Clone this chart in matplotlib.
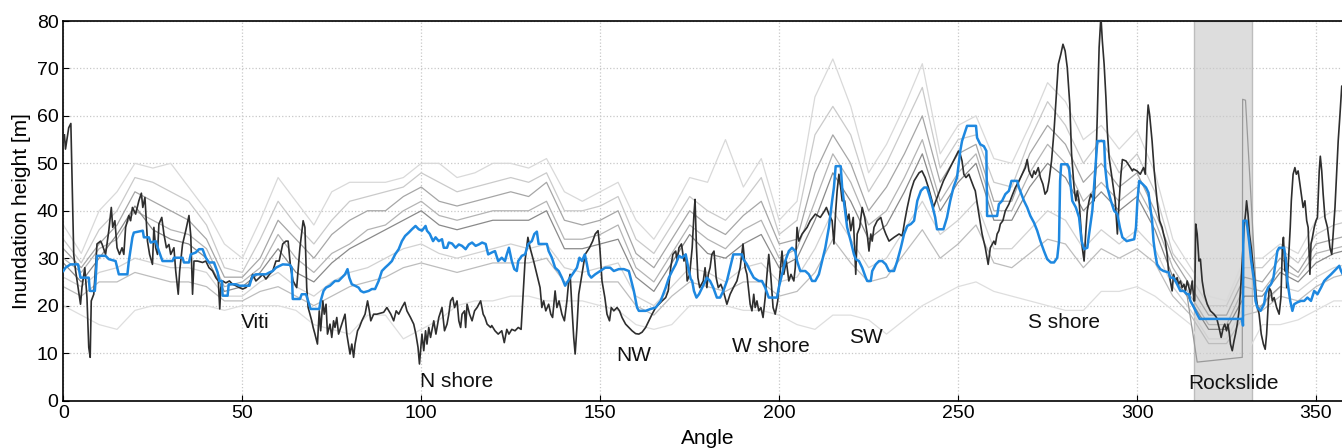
import matplotlib
matplotlib.use("Agg")
import matplotlib.pyplot as plt

plt.rcParams['font.family'] = ['Liberation Sans', 'DejaVu Sans']

# sudut untuk garis abu-abu (skenario), tiap 5 derajat
sudut_abu = list(range(0, 361, 5))

abu_atas = [37, 31, 40, 44, 50, 49, 50, 45, 40, 33,
            30, 38, 47, 42, 37, 44, 46, 46, 46, 47,
            50, 50, 47, 48, 50, 50, 49, 51, 44, 42,
            44, 46, 38, 34, 40, 47, 46, 55, 45, 51,
            38, 42, 64, 72, 62, 48, 54, 62, 71, 52,
            58, 60, 51, 50, 58, 67, 63, 55, 58, 53,
            57, 48, 34, 28, 22, 21, 30, 30, 33, 31,
            38, 40, 40]
abu_2 = [34, 29, 36, 40, 47, 46, 44, 42, 37, 28,
         27, 34, 42, 37, 33, 38, 42, 43, 44, 45,
         48, 46, 44, 45, 46, 47, 46, 48, 40, 40,
         41, 43, 34, 31, 37, 43, 40, 38, 42, 47,
         35, 38, 56, 62, 56, 44, 50, 58, 66, 49,
         55, 56, 46, 45, 55, 63, 58, 50, 55, 48,
         52, 44, 31, 26, 20, 20, 28, 28, 32, 29,
         35, 37, 38]
abu_3 = [32, 28, 33, 37, 44, 42, 40, 38, 34, 26,
         26, 30, 38, 34, 30, 35, 38, 40, 40, 43,
         45, 42, 41, 42, 43, 44, 43, 46, 38, 37,
         38, 40, 31, 28, 34, 40, 37, 35, 39, 42,
         33, 34, 48, 56, 50, 40, 45, 52, 60, 46,
         52, 54, 42, 42, 52, 58, 54, 46, 50, 45,
         48, 40, 30, 24, 18, 18, 26, 25, 30, 27,
         33, 34, 35]
abu_4 = [30, 27, 32, 34, 40, 38, 36, 35, 32, 24,
         25, 28, 35, 30, 27, 31, 33, 36, 37, 40,
         42, 39, 38, 39, 40, 40, 40, 42, 34, 34,
         35, 37, 28, 25, 31, 37, 34, 32, 36, 38,
         30, 32, 42, 52, 46, 37, 40, 47, 55, 42,
         48, 52, 40, 40, 48, 54, 50, 42, 46, 42,
         45, 38, 28, 22, 16, 16, 24, 23, 28, 26,
         31, 32, 33]
abu_5 = [29, 25, 30, 35, 41, 36, 34, 33, 30, 23,
         24, 27, 32, 27, 25, 29, 32, 34, 36, 38,
         40, 37, 36, 37, 38, 38, 38, 40, 32, 32,
         33, 34, 26, 23, 29, 35, 31, 30, 33, 35,
         28, 30, 38, 48, 42, 34, 37, 44, 52, 40,
         46, 50, 38, 38, 45, 50, 47, 40, 44, 40,
         43, 36, 26, 21, 15, 15, 22, 22, 27, 25,
         29, 31, 32]
abu_6 = [26, 24, 27, 28, 30, 29, 28, 28, 27, 22,
         22, 25, 27, 24, 22, 25, 27, 28, 30, 32,
         33, 31, 30, 31, 32, 33, 32, 33, 28, 27,
         28, 29, 22, 20, 24, 28, 27, 25, 28, 29,
         25, 26, 32, 40, 34, 28, 30, 36, 42, 35,
         38, 42, 32, 32, 36, 40, 38, 32, 36, 33,
         36, 32, 24, 19, 13, 13, 20, 20, 24, 23,
         26, 28, 29]
abu_7 = [24, 22, 25, 25, 27, 26, 25, 25, 24, 21,
         21, 23, 24, 22, 20, 22, 24, 25, 26, 28,
         29, 28, 27, 28, 29, 29, 29, 30, 25, 25,
         25, 25, 20, 18, 22, 25, 24, 23, 25, 25,
         22, 23, 27, 34, 29, 25, 26, 31, 36, 30,
         33, 37, 29, 28, 31, 34, 33, 28, 32, 30,
         32, 29, 22, 18, 12, 12, 18, 19, 22, 21,
         24, 26, 27]
abu_bawah = [20, 18, 16, 15, 19, 20, 20, 20, 20, 19,
             20, 20, 20, 19, 16, 15, 14, 18, 18, 13,
             15, 17, 20, 21, 21, 22, 22, 21, 21, 21,
             20, 19, 16, 15, 16, 20, 20, 20, 19, 19,
             18, 16, 15, 18, 18, 17, 14, 17, 20, 22,
             24, 25, 23, 22, 21, 20, 19, 19, 23, 23,
             24, 22, 19, 16, 8, 8, 9, 16, 16, 17,
             19, 21, 21]

# satu skenario yang melonjak di area longsoran
longsor_x = [314, 316.8, 329.4, 329.5, 330.3, 333.6, 337, 340]
longsor_y = [22, 8.1, 9.1, 63.5, 63.3, 19, 22, 24]

# garis hitam (pengamatan)
hitam_x = [0.3, 0.6, 1.5, 2.1, 2.9, 3.4, 4.8, 5.2, 6.0, 6.6, 7.1, 7.5, 7.8, 8.5, 9.0, 9.4,
           10.4, 10.8, 11.8, 12.7, 13.4, 13.8, 14.4, 15.0, 15.7, 16.4, 16.9, 17.4, 18.3, 18.8,
           19.3, 20.2, 21.1, 21.8, 22.2, 22.8, 23.5, 24.1, 24.9, 25.3, 25.8, 26.3, 26.7, 27.5,
           28.1, 28.8, 29.5, 30.0, 30.9, 31.4, 32.1, 32.5, 33.3, 34.2, 35.1, 35.6, 36.1, 36.5,
           37.5, 38.9, 39.8, 40.7, 41.7, 42.6, 43.3, 43.7, 44.0, 44.5, 45.4, 46.4, 47.3, 48.2,
           49.2, 50.1, 51.0, 51.9, 52.9, 53.8, 54.8, 55.7, 56.6, 57.6, 58.5, 59.4, 60.3, 61.3,
           62.2, 62.8, 63.5, 64.2, 65.2, 66.1, 67.0, 67.5, 68.0, 68.4, 69.4, 69.8, 70.3, 71.0,
           71.5, 71.9, 72.5, 72.9, 73.4, 73.8, 74.5, 75.0, 75.5, 75.9, 76.4, 76.9, 77.8, 78.7,
           79.2, 80.1, 80.6, 81.1, 81.5, 82.2, 82.7, 83.4, 84.3, 85.0, 85.5, 85.9, 86.7, 87.6,
           89.5, 90.4, 91.5, 92.3, 93.0, 93.7, 94.6, 95.4, 96.0, 97.0, 97.9, 98.5, 99.1, 99.5,
           99.9, 100.2, 100.7, 101.2, 101.6, 102.1, 102.6, 103.5, 104.1, 104.9, 105.8, 106.5,
           107.2, 107.7, 108.2, 108.8, 109.3, 110.0, 110.5, 111.0, 111.4, 112.1, 112.4, 112.8,
           113.5, 114.2, 114.9, 115.6, 116.6, 117.3, 117.8, 118.4, 119.4, 119.7, 120.6, 121.5,
           122.5, 123.2, 123.9, 124.5, 125.3, 126.2, 127.1, 127.9, 128.3, 129.0, 129.8, 130.4,
           131.4, 132.3, 133.2, 133.7, 134.2, 134.8, 135.6, 136.2, 136.7, 137.4, 137.9, 138.5,
           139.3, 140.0, 140.7, 141.2, 141.6, 142.1, 142.6, 143.0, 143.5, 144.0, 144.9, 145.8,
           147.0, 147.9, 148.6, 149.4, 149.9, 150.5, 151.3, 151.9, 152.6, 153.1, 153.8, 154.7,
           155.4, 156.1, 157.1, 158.0, 158.9, 159.9, 160.8, 161.7, 162.7, 163.6, 164.5, 165.5,
           166.4, 167.3, 168.3, 169.0, 169.7, 170.3, 171.1, 171.5, 172.0, 172.7, 173.4, 173.9,
           174.3, 175.0, 175.7, 176.2, 176.5, 176.9, 177.3, 177.8, 178.8, 179.3, 179.8, 180.2,
           180.7, 181.2, 181.8, 182.4, 183.0, 183.7, 184.4, 185.4, 186.3, 187.2, 188.2, 189.1,
           189.9, 190.5, 191.0, 191.5, 191.9, 192.4, 192.9, 193.3, 193.8, 194.3, 194.9, 195.5,
           196.1, 196.6, 197.1, 197.7, 198.3, 198.9, 199.6, 200.3, 200.8, 201.3, 202.0, 202.7,
           203.3, 204.1, 204.5, 205.0, 205.5, 206.4, 207.8, 208.7, 210.1, 211.5, 212.7, 213.2,
           213.9, 214.8, 215.3, 215.8, 216.2, 216.7, 217.2, 217.6, 218.3, 219.0, 219.5, 220.0,
           220.7, 221.1, 221.4, 221.8, 222.5, 223.2, 223.9, 224.6, 225.1, 225.6, 226.0, 226.5,
           227.4, 228.4, 229.1, 229.8, 230.7, 232.1, 233.5, 234.4, 235.1, 235.8, 236.8, 237.7,
           239.1, 239.9, 240.8, 241.7, 242.7, 243.1, 244.5, 245.9, 247.3, 248.7, 250.1, 250.6,
           251.1, 251.6, 252.2, 253.0, 253.7, 254.4, 254.8, 255.8, 256.7, 257.6, 258.4, 259.0,
           259.5, 260.0, 260.4, 260.9, 261.4, 261.8, 262.5, 263.2, 264.2, 265.1, 266.0, 267.0,
           267.9, 268.8, 269.3, 269.8, 270.2, 270.7, 271.2, 271.6, 272.4, 273.0, 273.7, 274.3,
           274.9, 275.4, 276.1, 276.8, 277.4, 278.0, 278.7, 279.3, 279.9, 280.5, 281.2, 281.7,
           282.4, 282.9, 283.3, 283.8, 284.3, 284.7, 285.2, 285.7, 286.1, 286.6, 287.1, 287.5,
           288.0, 288.5, 288.9, 289.4, 289.9, 290.3, 290.8, 291.3, 291.7, 292.2, 293.1, 293.9,
           294.5, 295.0, 295.5, 295.9, 296.9, 297.8, 298.7, 299.0, 300.0, 300.9, 301.8, 302.3,
           302.8, 303.1, 303.5, 304.2, 304.8, 305.6, 306.3, 307.0, 307.4, 307.9, 308.4, 308.8,
           309.3, 309.8, 310.2, 310.7, 311.2, 311.6, 312.1, 312.6, 313.1, 313.5, 314.0, 314.5,
           314.9, 315.4, 315.9, 316.1, 316.4, 316.8, 317.3, 317.7, 318.2, 318.8, 319.6, 320.5,
           321.5, 322.2, 322.9, 323.5, 324.1, 324.5, 325.0, 325.4, 325.8, 326.1, 326.6, 327.1,
           327.5, 328.0, 328.5, 328.9, 329.4, 329.9, 330.3, 330.6, 331.0, 331.4, 331.9, 332.7,
           333.4, 334.1, 334.7, 335.3, 335.8, 336.2, 336.6, 336.9, 337.4, 337.8, 338.3, 339.0,
           339.7, 340.2, 340.6, 340.9, 341.3, 341.6, 341.8, 342.2, 342.8, 343.1, 343.6, 344.1,
           344.5, 345.0, 345.5, 345.9, 346.4, 346.9, 347.4, 347.8, 348.3, 348.6, 349.0, 349.5,
           350.0, 350.4, 350.9, 351.2, 351.6, 352.0, 352.5, 353.2, 353.9, 354.4, 354.8, 355.3,
           355.8, 356.2, 356.7, 357.2, 357.5]
hitam_y = [56, 53, 57.5, 58.4, 30.8, 27.5, 20.3, 23.8, 28.0, 21.7, 11.2, 9.1, 21.0, 22.4, 28.0, 33.0,
           33.6, 33.0, 30.8, 35.8, 40.7, 36.5, 37.9, 32.2, 30.8, 32.2, 30.8, 36.5, 39.0, 37.9,
           40.7, 39.3, 42.1, 43.7, 40.7, 42.8, 33.6, 30.8, 28.7, 36.5, 32.2, 30.8, 37.2, 38.6,
           35.1, 32.2, 32.9, 30.8, 32.2, 27.3, 22.4, 27.3, 32.9, 35.8, 39.0, 34.8, 22.4, 29.4,
           29.4, 29.1, 29.4, 28.0, 27.3, 25.9, 25.2, 19.3, 23.8, 25.2, 24.8, 25.2, 24.5, 24.2,
           23.8, 23.5, 23.8, 24.5, 26.6, 25.2, 25.9, 26.6, 25.6, 26.6, 27.3, 29.4, 29.4, 33.0,
           33.6, 33.6, 28.0, 25.2, 23.8, 32.2, 37.9, 36.5, 23.8, 19.6, 16.8, 15.4, 14.0, 11.9,
           18.9, 14.7, 21.0, 18.2, 20.3, 14.0, 16.1, 13.3, 16.8, 15.4, 17.5, 14.0, 16.1, 18.2,
           14.0, 9.8, 11.9, 9.1, 11.9, 14.7, 15.4, 16.8, 18.2, 21.0, 18.9, 16.8, 18.2, 18.2,
           18.6, 19.6, 18.2, 16.8, 18.9, 18.2, 19.6, 20.7, 18.9, 17.5, 16.1, 14.0, 11.2, 7.7,
           11.2, 14.0, 10.5, 14.7, 11.9, 15.4, 13.3, 16.8, 14.0, 17.5, 19.6, 14.7,
           16.1, 18.2, 21.0, 21.7, 19.6, 21.0, 16.8, 15.4, 18.2, 18.9, 15.4, 20.3,
           18.2, 16.8, 18.9, 19.6, 21.0, 18.2, 17.5, 16.1, 15.4, 15.8, 14.7, 14.0,
           14.7, 12.2, 15.0, 14.0, 15.0, 14.7, 15.4, 15.0, 20.3, 29.4, 34.4, 32.2,
           29.4, 26.6, 23.8, 19.6, 21.0, 18.9, 20.3, 18.2, 17.5, 23.1, 19.6, 21.0,
           18.2, 16.8, 21.0, 25.2, 26.6, 19.6, 13.3, 9.8, 15.4, 22.4, 26.6, 30.8,
           32.2, 33.6, 35.1, 35.8, 32.2, 25.2, 21.7, 18.2, 16.8, 19.6, 18.9, 19.6,
           18.9, 17.5, 16.1, 15.4, 14.7, 14.1, 14.0, 14.4, 15.4, 16.8, 18.2, 19.6,
           20.3, 21.0, 21.7, 23.1, 28.0, 30.8, 31.5, 29.4, 32.2, 33.0, 29.4, 30.8,
           25.2, 26.6, 32.2, 39.3, 42.4, 32.2, 25.9, 23.8, 25.2, 28.0, 23.8, 26.6,
           28.0, 30.8, 31.5, 25.9, 23.8, 24.5, 23.1, 20.3, 22.4, 23.8, 25.2, 28.0,
           33.0, 28.0, 26.6, 23.1, 20.3, 18.9, 22.4, 19.6, 21.0, 18.9, 19.6, 17.5,
           21.7, 26.6, 30.8, 25.9, 19.6, 18.2, 21.0, 27.3, 31.5, 26.6, 29.4, 25.2,
           26.6, 25.2, 28.0, 36.5, 33.6, 35.1, 36.5, 37.9, 39.3, 38.6, 40.0, 40.7,
           39.3, 37.9, 33.0, 40.0, 44.2, 47.7, 44.9, 42.1, 42.1, 37.9, 39.3, 35.8,
           38.6, 32.2, 26.6, 35.1, 36.5, 40.7, 38.6, 35.1, 31.5, 35.1, 33.6, 36.5,
           37.9, 38.6, 36.5, 35.1, 33.6, 34.4, 35.1, 34.7, 37.9, 40.7, 44.2, 46.3,
           48.0, 48.4, 47.0, 44.9, 42.1, 40.7, 43.5, 46.3, 48.4, 50.5, 52.6, 51.9,
           50.5, 47.7, 47.0, 47.7, 46.3, 44.9, 44.2, 39.3, 35.1, 32.2, 28.7, 32.2,
           32.9, 33.6, 32.9, 35.1, 35.8, 37.2, 37.9, 40.0, 41.4, 43.2, 44.9, 46.3,
           47.7, 49.1, 50.8, 48.4, 47.7, 47.0, 48.4, 47.7, 49.1, 47.0, 45.6, 43.5,
           44.2, 46.3, 50.5, 56.8, 63.9, 70.9, 73.0, 75.1, 73.7, 70.2, 62.5, 52.0,
           44.9, 42.1, 44.2, 42.1, 36.5, 32.2, 29.4, 35.8, 40.0, 42.1, 43.5, 42.8,
           42.1, 49.8, 60.3, 74.4, 81.0, 75.8, 70.9, 63.9, 56.8, 51.2, 46.3, 42.1,
           35.1, 42.1, 47.7, 50.8, 50.5, 49.5, 48.4, 48.8, 48.4, 47.7, 49.1, 47.7,
           58.4, 62.3, 60.3, 54.7, 48.4, 42.1, 37.9, 36.5, 35.1, 33.6, 30.8, 27.3,
           25.2, 23.1, 26.6, 25.2, 25.9, 24.5, 25.2, 23.8, 24.5, 23.1, 25.2, 23.8,
           22.4, 25.2, 21.0, 21.0, 37.2, 35.1, 29.4, 29.8, 25.2, 22.4, 20.3, 18.9,
           18.2, 17.5, 15.4, 13.3, 15.4, 16.1, 14.7, 16.1, 14.0, 11.9, 10.5, 12.6,
           14.0, 16.1, 18.9, 23.1, 29.4, 36.5, 39.3, 42.1, 39.3, 35.1, 32.2, 26.6,
           21.0, 18.2, 14.0, 11.9, 10.8, 14.0, 19.6, 23.8, 23.1, 21.0, 21.7, 19.6,
           18.2, 21.7, 32.2, 34.4, 27.3, 30.1, 23.8, 28.0, 36.5, 42.1, 47.7, 49.1,
           47.7, 48.4, 45.6, 43.5, 40.7, 42.1, 37.9, 36.5, 26.6, 33.0, 34.4, 36.5,
           37.9, 38.6, 48.4, 51.5, 48.4, 43.5, 38.6, 36.5, 32.2, 30.8, 35.1, 40.7,
           48.4, 54.7, 60.3, 66.3, 64.6]

# garis biru (median skenario)
biru_x = [0, 0.6, 2.0, 4.1, 4.8, 7.1, 7.4, 8.8, 9.0, 9.4, 11.8, 12.7, 14.6, 15.5, 17.9, 18.3,
          19.3, 19.7, 22.2, 22.5, 23.9, 24.4, 25.8, 26.7, 27.7, 30.5, 30.9, 33.3, 33.7, 35.1,
          35.6, 37.0, 37.9, 38.9, 39.8, 40.7, 42.1, 43.1, 43.6, 44.3, 44.5, 45.9, 46.2, 48.2,
          49.2, 52.0, 52.4, 52.9, 53.8, 56.6, 57.6, 58.5, 59.4, 61.3, 63.3, 63.8, 64.1, 66.1,
          66.6, 67.8, 68.4, 69.1, 71.5, 71.9, 72.7, 73.4, 74.5, 75.9, 76.9, 77.8, 78.7, 79.4,
          79.9, 80.6, 81.5, 82.5, 83.1, 83.9, 85.3, 86.2, 87.1, 88.1, 89.0, 89.9, 90.9, 91.8,
          92.7, 93.7, 94.6, 95.5, 96.5, 97.4, 98.4, 99.3, 100.2, 101.2, 101.6, 102.4, 103.3,
          104.0, 104.9, 105.8, 106.3, 107.2, 107.7, 108.6, 109.6, 110.5, 111.4, 112.4, 113.3,
          114.2, 115.2, 116.1, 117.0, 118.0, 118.7, 119.7, 120.6, 121.5, 122.5, 123.4, 123.9,
          124.5, 125.3, 126.0, 126.7, 127.1, 128.1, 129.0, 129.9, 130.9, 131.6, 132.3, 132.8,
          134.2, 135.1, 135.6, 136.5, 137.4, 138.4, 139.3, 140.2, 141.6, 142.6, 143.5, 144.2,
          144.9, 145.7, 146.3, 146.8, 147.5, 148.6, 150.0, 151.4, 152.8, 153.8, 155.2, 156.6,
          158.0, 158.7, 159.4, 160.3, 160.8, 162.7, 164.1, 165.5, 166.9, 168.3, 169.2, 170.1,
          171.1, 172.0, 172.9, 173.9, 174.6, 175.3, 175.7, 176.2, 176.9, 177.6, 178.5, 179.8,
          180.7, 181.6, 182.6, 183.5, 184.4, 185.4, 186.3, 187.2, 189.6, 190.0, 191.0, 191.9,
          192.9, 194.3, 195.2, 196.1, 197.1, 199.4, 199.9, 200.8, 201.7, 202.7, 203.6, 204.5,
          205.0, 205.9, 207.3, 208.3, 209.2, 210.1, 211.1, 212.0, 212.9, 213.9, 214.8, 215.3,
          215.8, 217.2, 217.6, 218.3, 219.0, 220.0, 220.9, 221.4, 222.3, 223.2, 224.2, 224.6,
          225.6, 226.0, 227.0, 227.9, 228.8, 229.8, 230.7, 232.1, 233.0, 234.0, 234.9, 235.8,
          236.8, 237.7, 238.6, 239.6, 240.5, 241.3, 241.9, 242.7, 243.6, 244.1, 245.9, 246.9,
          247.8, 248.7, 249.7, 250.6, 251.1, 252.5, 255.0, 255.3, 256.2, 257.2, 257.9, 258.1,
          260.9, 261.4, 262.3, 263.2, 264.2, 264.9, 266.5, 267.0, 267.7, 268.4, 269.3, 270.2,
          271.2, 272.1, 273.0, 274.0, 274.9, 275.9, 276.8, 277.7, 278.2, 278.5, 278.8, 280.5,
          281.0, 281.5, 281.9, 282.9, 283.8, 284.5, 285.2, 286.1, 286.6, 287.5, 288.9, 290.8,
          291.1, 291.7, 292.7, 293.6, 294.5, 295.2, 295.9, 297.1, 299.2, 299.7, 300.1, 300.6,
          301.6, 302.5, 303.2, 303.7, 304.2, 304.6, 305.1, 305.6, 306.5, 307.4, 308.8, 309.3,
          310.2, 311.2, 312.1, 313.1, 314.0, 314.5, 314.9, 315.9, 316.8, 317.5, 329.4, 329.6,
          329.7, 330.6, 331.3, 331.9, 332.7, 333.1, 333.6, 334.5, 335.5, 335.9, 336.6, 337.4,
          338.1, 338.5, 339.2, 339.7, 341.1, 341.6, 342.0, 342.8, 343.4, 343.9, 344.8, 345.8,
          346.7, 347.6, 348.6, 349.5, 350.4, 351.4, 352.3, 353.2, 354.2, 355.1, 356.0, 356.5,
          357.0, 357.5, 358.5]
biru_y = [27.3, 28.0, 28.7, 28.7, 25.9, 25.9, 23.1, 23.1, 25.2, 30.5, 30.5, 29.8, 29.4, 26.6, 26.6, 29.4,
          34.4, 35.4, 35.8, 34.4, 34.4, 33.3, 33.6, 31.5, 29.4, 29.4, 30.1, 30.1, 29.1, 29.1,
          30.8, 31.2, 31.9, 31.9, 30.1, 29.1, 29.1, 27.0, 25.2, 25.2, 22.1, 22.1, 24.5, 24.5,
          24.2, 24.2, 25.2, 26.3, 26.6, 26.6, 27.0, 27.3, 28.0, 28.7, 28.6, 28.0, 21.4, 21.4,
          22.4, 22.4, 21.0, 19.3, 19.3, 21.0, 23.1, 23.8, 24.2, 25.2, 25.2, 25.9, 26.6, 27.7,
          25.9, 24.5, 24.2, 23.8, 23.1, 22.8, 23.1, 23.5, 23.5, 25.2, 27.3, 28.0, 28.7, 29.4,
          30.8, 31.9, 33.6, 34.7, 35.4, 36.1, 36.8, 36.1, 35.8, 36.8, 35.8, 35.1, 33.6,
          34.4, 33.6, 34.0, 32.2, 32.2, 33.3, 33.1, 32.2, 32.9, 32.6, 31.9, 32.9,
          33.3, 32.6, 32.9, 33.3, 33.0, 30.8, 31.2, 31.5, 29.4, 30.1, 29.4, 30.8,
          32.2, 29.4, 27.7, 27.3, 29.4, 30.5, 30.8, 33.0, 33.6, 35.1, 35.6, 33.0,
          33.0, 33.0, 31.5, 30.1, 28.0, 27.3, 25.9, 24.2, 25.9, 27.0, 28.0, 30.1,
          29.4, 30.8, 28.7, 26.6, 25.9, 26.6, 27.3, 28.0, 28.0, 27.3, 27.7, 27.7,
          27.3, 25.2, 23.1, 19.6, 18.9, 18.9, 19.3, 19.6, 21.0, 23.8, 25.9, 27.3,
          28.7, 30.5, 30.1, 30.8, 28.0, 25.6, 25.2, 23.1, 21.7, 22.4, 23.8, 25.9,
          25.2, 23.8, 21.7, 21.7, 23.1, 25.2, 28.0, 30.8, 30.8, 29.8, 28.7, 27.3,
          25.9, 25.2, 25.2, 23.8, 21.7, 21.7, 23.8, 26.6, 29.4, 31.5, 32.2, 31.5,
          29.4, 27.3, 27.3, 26.6, 25.2, 25.2, 26.6, 29.4, 32.2, 36.5, 42.1, 44.9,
          49.4, 49.4, 44.9, 40.7, 36.5, 33.6, 30.8, 29.8, 29.4, 28.0, 25.9, 25.2,
          25.2, 27.3, 28.7, 29.4, 29.4, 28.7, 27.3, 27.3, 29.4, 32.2, 35.1, 36.8,
          37.2, 37.9, 42.1, 44.2, 44.9, 44.9, 43.5, 41.4, 38.6, 36.1, 36.1, 38.6,
          42.1, 44.9, 47.0, 52.6, 54.7, 57.9, 57.9, 55.4, 54.0, 53.6, 52.6, 38.9,
          38.9, 41.4, 42.1, 43.5, 44.2, 46.3, 46.3, 44.9, 43.5, 42.1, 40.7, 38.9,
          37.5, 35.8, 33.6, 31.5, 29.8, 29.1, 29.1, 30.1, 33.6, 46.3, 49.8, 49.8,
          49.1, 44.9, 42.1, 40.7, 38.6, 33.6, 31.9, 32.2, 35.1, 40.0, 54.7, 54.7,
          49.1, 44.9, 42.1, 40.0, 39.3, 36.5, 34.4, 33.6, 34.0, 36.5, 42.1, 46.3,
          45.6, 44.9, 43.8, 40.7, 37.9, 33.6, 30.8, 28.7, 27.7, 27.3, 27.0, 25.9,
          25.9, 24.5, 23.1, 23.1, 22.4, 22.4, 21.0, 19.6, 18.2, 17.2, 17.2, 15.8,
          37.9, 37.9, 33.6, 29.4, 25.2, 21.0, 19.6, 18.9, 20.3, 22.4, 23.8, 24.5,
          25.9, 28.0, 31.5, 32.2, 32.2, 29.4, 25.2, 21.0, 18.9, 20.3, 20.7, 21.0,
          21.0, 21.7, 21.0, 23.1, 22.4, 23.8, 25.2, 25.9, 26.6, 27.3, 28.0, 28.4,
          27.3, 26.6, 27.0]

# label wilayah
label_teks = ["Viti", "N shore", "NW", "W shore", "SW", "S shore", "Rockslide"]
label_x = [53.7, 109.9, 159.3, 197.7, 224.2, 279.7, 326.9]
label_y = [16.4, 4.1, 9.4, 11.3, 13.3, 16.4, 3.5]

garis_abu = [
    (abu_atas, '#d9d9d9'),
    (abu_bawah, '#dedede'),
    (abu_2, '#cacaca'),
    (abu_6, '#d2d2d2'),
    (abu_4, '#b4b4b4'),
    (abu_3, '#a6a6a6'),
    (abu_7, '#bdbdbd'),
    (abu_5, '#8a8a8a'),
]

fig = plt.figure(figsize=(13.42, 4.48), dpi=100)
ax = fig.add_axes([0.0472, 0.106, 0.9601, 0.8471])

ax.axvspan(316, 332, facecolor='#dddddd', edgecolor='#bdbdbd', linewidth=1, zorder=0)

for nilai, warna in garis_abu:
    ax.plot(sudut_abu, nilai, color=warna, linewidth=0.9, zorder=1)
ax.plot(longsor_x, longsor_y, color='#9a9a9a', linewidth=0.9, zorder=1)

ax.plot(hitam_x, hitam_y, color='#2e2e2e', linewidth=1.2, zorder=3)
ax.plot(biru_x, biru_y, color='#1e88e0', linewidth=1.8, zorder=4)

for teks, lx, ly in zip(label_teks, label_x, label_y):
    ax.text(lx, ly, teks, fontsize=15, ha='center', va='center', color='#111111', zorder=5)

ax.set_xlim(0, 360)
ax.set_ylim(0, 80)
ax.set_xticks(range(0, 360, 50))
ax.set_yticks(range(0, 81, 10))
ax.tick_params(direction='in', labelsize=14, length=4)
ax.grid(True, linestyle=':', color='#c8c8c8', linewidth=0.9)
ax.set_axisbelow(True)
ax.set_xlabel("Angle", fontsize=15, labelpad=5)
ax.set_ylabel("Inundation height [m]", fontsize=15, labelpad=4)
for s in ax.spines.values():
    s.set_linewidth(1.2)

fig.savefig("out.png", dpi=100)
